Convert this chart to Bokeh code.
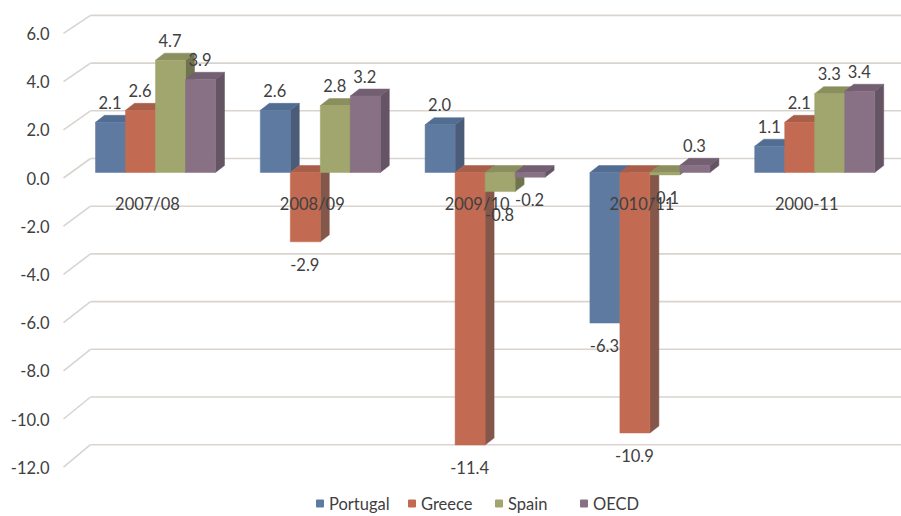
from bokeh.plotting import figure
from bokeh.models import Range1d
from bokeh.embed import file_html
from bokeh.resources import INLINE
from bokeh.core.properties import value

# ---- data -------------------------------------------------------------
periods = ["2007/08", "2008/09", "2009/10", "2010/11", "2000-11"]
series_names = ["Portugal", "Greece", "Spain", "OECD"]
portugal = [2.1, 2.6, 2.0, -6.3, 1.1]
greece = [2.6, -2.9, -11.4, -10.9, 2.1]
spain = [4.7, 2.8, -0.8, -0.1, 3.3]
oecd = [3.9, 3.2, -0.2, 0.3, 3.4]
y_ticks = [6, 4, 2, 0, -2, -4, -6, -8, -10, -12]

# ---- styling / layout -------------------------------------------------
W, H = 901, 516
PX_PER_UNIT = 23.9          # vertical pixels per unit on the bar plane
BASE_PX = 172               # pixel row of the zero line on the bar plane
FONT = value("Lato")
FONT_SIZE = "16.5px"
TEXT_COLOR = "#404040"
GRID_COLOR = "#d9d4cf"

front_colors = ["#5f7aa0", "#c26b52", "#a0a66d", "#887185"]
top_colors = ["#526d92", "#a95e49", "#8a8f5d", "#735f72"]
side_colors = ["#4a5c78", "#84574a", "#6f744f", "#655464"]

GROUP_LEFT = 95.0           # left edge of the first group
GROUP_STEP = 164.8          # distance between groups
BAR_W = 30.0                # bar width
DEPTH_DX = 9.0              # oblique depth, horizontal pixels
DEPTH_DY = 7.0              # oblique depth, vertical pixels


def u(px):
    """Vertical pixel distance to data units."""
    return px / PX_PER_UNIT


p = figure(width=W, height=H, output_backend="svg", toolbar_location=None,
           x_range=Range1d(0, W),
           y_range=Range1d(-u(H - BASE_PX), u(BASE_PX)),
           min_border=0, min_border_left=0, min_border_right=0,
           min_border_top=0, min_border_bottom=0)
p.xaxis.visible = False
p.yaxis.visible = False
p.xgrid.visible = False
p.ygrid.visible = False
p.outline_line_color = None
p.background_fill_color = "white"
p.border_fill_color = "white"

# ---- back wall gridlines with their oblique floor stubs -----------------
WALL_FRONT_X, WALL_BACK_X = 63, 90
back_y = [t * 23.85 / PX_PER_UNIT + u(14) for t in y_ticks]
front_y = [t * 24.1 / PX_PER_UNIT - u(5.5) for t in y_ticks]
p.segment(x0=[WALL_BACK_X] * len(y_ticks), y0=back_y,
          x1=[W] * len(y_ticks), y1=back_y,
          line_color=GRID_COLOR, line_width=1.6)
p.segment(x0=[WALL_FRONT_X] * len(y_ticks), y0=front_y,
          x1=[WALL_BACK_X] * len(y_ticks), y1=back_y,
          line_color=GRID_COLOR, line_width=1.6)

# y tick labels
p.text(x=[49] * len(y_ticks), y=front_y, text=[f"{t:.1f}" for t in y_ticks],
       text_font=FONT, text_font_size=FONT_SIZE, text_color=TEXT_COLOR,
       text_align="right", text_baseline="middle")

# ---- 3D bars ----------------------------------------------------------
all_series = [portugal, greece, spain, oecd]
ddy = u(DEPTH_DY)

faces = {"side": [], "top": [], "front": []}
for j, vals in enumerate(all_series):
    fx, fy, tx, ty, sx, sy = [], [], [], [], [], []
    for i, v in enumerate(vals):
        x0 = GROUP_LEFT + GROUP_STEP * i + BAR_W * j
        x1 = x0 + BAR_W
        top, bot = max(v, 0.0), min(v, 0.0)
        fx.append([x0, x1, x1, x0]); fy.append([bot, bot, top, top])
        tx.append([x0, x1, x1 + DEPTH_DX, x0 + DEPTH_DX])
        ty.append([top, top, top + ddy, top + ddy])
        sx.append([x1, x1 + DEPTH_DX, x1 + DEPTH_DX, x1])
        sy.append([bot, bot + ddy, top + ddy, top])
    faces["front"].append((fx, fy))
    faces["top"].append((tx, ty))
    faces["side"].append((sx, sy))

# painter's order: side faces, then top faces, then front faces
for face, colors in (("side", side_colors), ("top", top_colors), ("front", front_colors)):
    for j, (xs, ys) in enumerate(faces[face]):
        p.patches(xs=xs, ys=ys, fill_color=colors[j], line_color=colors[j],
                  line_width=0.5)

# ---- category labels ----------------------------------------------------
cat_x = [GROUP_LEFT + GROUP_STEP * i + 2 * BAR_W - 8 for i in range(len(periods))]
p.text(x=cat_x, y=[-u(31)] * len(periods), text=periods,
       text_font=FONT, text_font_size=FONT_SIZE, text_color=TEXT_COLOR,
       text_align="center", text_baseline="middle")

# ---- value labels -------------------------------------------------------
lx, ly, lt = [], [], []
for j, vals in enumerate(all_series):
    for i, v in enumerate(vals):
        cx = GROUP_LEFT + GROUP_STEP * i + BAR_W * j + BAR_W / 2 - 0.5
        lx.append(cx)
        ly.append(v + u(20) if v >= 0 else v - u(22.5))
        lt.append(f"{v:.1f}")
p.text(x=lx, y=ly, text=lt, text_font=FONT, text_font_size=FONT_SIZE,
       text_color=TEXT_COLOR, text_align="center", text_baseline="middle")

# ---- legend -------------------------------------------------------------
legend_marker_x = [319.5, 411.5, 498.5, 583.5]
legend_y = -u(503 - BASE_PX)
p.scatter(x=legend_marker_x, y=[legend_y] * 4, marker="square", size=7,
          fill_color=front_colors, line_color=front_colors)
p.text(x=[mx + 9 for mx in legend_marker_x], y=[legend_y] * 4, text=series_names,
       text_font=FONT, text_font_size=FONT_SIZE, text_color=TEXT_COLOR,
       text_align="left", text_baseline="middle")

open("out.html", "w").write(file_html(p, INLINE))
